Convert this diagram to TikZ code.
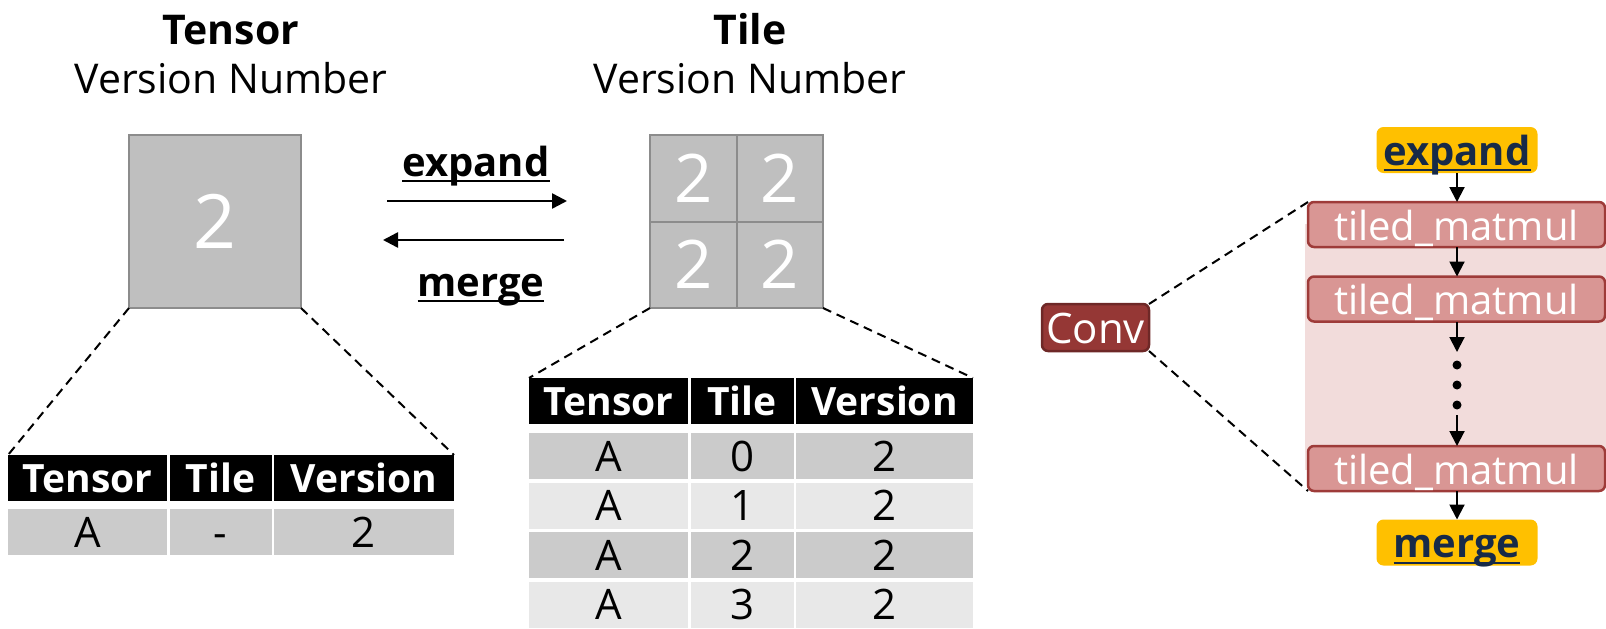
\documentclass[tikz,border=0pt]{standalone}
\usepackage{fontspec}
\setmainfont{Open Sans}
\usetikzlibrary{positioning,arrows.meta}
\definecolor{blkfill}{HTML}{BFBFBF}
\definecolor{blkline}{HTML}{8C8C8C}
\definecolor{rowdark}{HTML}{CBCBCB}
\definecolor{rowlight}{HTML}{E8E8E8}
\definecolor{convred}{HTML}{953735}
\definecolor{convline}{HTML}{6E2827}
\definecolor{tiledfill}{HTML}{D99694}
\definecolor{tiledline}{HTML}{9E3B39}
\definecolor{pinkbg}{HTML}{F2DCDB}
\definecolor{opyellow}{HTML}{FFC000}
\definecolor{opnavy}{HTML}{172A48}
\newcommand{\fs}[1]{\fontsize{#1}{#1}\selectfont}
\newcommand{\ulbar}[1]{\setbox0\hbox{#1}\rlap{\rule[-6pt]{\wd0}{2pt}}#1}

\begin{document}
\begin{tikzpicture}[x=1pt,y=-1pt,
    every node/.style={inner sep=0pt,outer sep=0pt},
    titletext/.style={font=\bfseries\fs{41},anchor=base},
    subtext/.style={font=\fs{41},anchor=base},
    block/.style={draw=blkline,fill=blkfill,line width=2pt,text=white,text height=54pt,text depth=0pt,font=\fs{75}},
    tilecell/.style={block,minimum width=86.5pt,minimum height=86.5pt,text height=48pt,font=\fs{67}},
    hcell/.style={fill=black,text=white,minimum height=46pt,text height=28pt,text depth=0pt,font=\bfseries\fs{39}},
    dcell/.style={fill=rowdark,minimum height=46pt,text height=30pt,text depth=0pt,font=\fs{42}},
    lcell/.style={dcell,fill=rowlight},
    arr/.style={-{Triangle[length=15pt,width=15pt]},line width=2.5pt},
    varr/.style={-{Triangle[length=15pt,width=15pt]},line width=2pt},
    zoomline/.style={dash pattern=on 9pt off 6pt,line width=2pt},
    opbox/.style={fill=opyellow,rounded corners=7pt,minimum width=161pt,minimum height=46pt,text height=30pt,text depth=0pt,text=opnavy,font=\bfseries\fs{40}},
    tiled/.style={draw=tiledline,fill=tiledfill,line width=2.5pt,rounded corners=6pt,minimum width=297pt,minimum height=45pt,text height=31pt,text depth=0pt,text=white,font=\fs{40}},
  ]
    \useasboundingbox (0,0) rectangle (1606,629);

    % titles
    \node[titletext] (tentitle) at (231,44) {Tensor};
    \node[subtext] (tensub) at (231,93) {Version Number};
    \node[titletext] (tiltitle) at (750,44) {Tile};
    \node[subtext] (tilsub) at (750,93) {Version Number};

    % tensor and tiles
    \node[block,minimum width=172pt,minimum height=173pt] (tensor) at (215,221.5) {2};
    \node[tilecell] (t1) at (693.25,178.25) {2};
    \node[tilecell,right=0pt of t1] (t2) {2};
    \node[tilecell,below=0pt of t1] (t3) {2};
    \node[tilecell,right=0pt of t3] (t4) {2};

    % expand / merge between them
    \node[font=\bfseries\fs{40},anchor=base] (explbl) at (476,176) {\ulbar{expand}};
    \node[font=\bfseries\fs{40},anchor=base] (mrglbl) at (481,296) {\ulbar{merge}};
    \coordinate (ea) at (387,201);
    \coordinate (eb) at (567,201);
    \coordinate (ma) at (564,240);
    \coordinate (mb) at (383,240);
    \draw[arr] (ea)--(eb);
    \draw[arr] (ma)--(mb);

    % tensor table
    \node[hcell,minimum width=159pt,anchor=north west] (lten) at (8,455) {Tensor};
    \node[hcell,minimum width=102pt,right=2.5pt of lten] (ltil) {Tile};
    \node[hcell,minimum width=180pt,right=2.5pt of ltil] (lver) {Version};
    \node[dcell,minimum width=159pt,below=8pt of lten] (la) {A};
    \node[dcell,minimum width=102pt,below=8pt of ltil] (lnone) {-};
    \node[dcell,minimum width=180pt,below=8pt of lver] (lv) {2};

    % tile table
    \node[hcell,minimum width=159pt,anchor=north west] (rten) at (529,378) {Tensor};
    \node[hcell,minimum width=103pt,right=2.5pt of rten] (rtil) {Tile};
    \node[hcell,minimum width=177pt,right=2.5pt of rtil] (rver) {Version};
    \node[dcell,minimum width=159pt,below=9pt of rten] (ra0) {A};
    \node[dcell,minimum width=103pt,below=9pt of rtil] (ri0) {0};
    \node[dcell,minimum width=177pt,below=9pt of rver] (rv0) {2};
    \node[lcell,minimum width=159pt,below=3.5pt of ra0] (ra1) {A};
    \node[lcell,minimum width=103pt,below=3.5pt of ri0] (ri1) {1};
    \node[lcell,minimum width=177pt,below=3.5pt of rv0] (rv1) {2};
    \node[dcell,minimum width=159pt,below=3.5pt of ra1] (ra2) {A};
    \node[dcell,minimum width=103pt,below=3.5pt of ri1] (ri2) {2};
    \node[dcell,minimum width=177pt,below=3.5pt of rv1] (rv2) {2};
    \node[lcell,minimum width=159pt,below=3.5pt of ra2] (ra3) {A};
    \node[lcell,minimum width=103pt,below=3.5pt of ri2] (ri3) {3};
    \node[lcell,minimum width=177pt,below=3.5pt of rv2] (rv3) {2};

    \draw[zoomline] (tensor.south west)--(lten.north west);
    \draw[zoomline] (tensor.south east)--(lver.north east);
    \draw[zoomline] (t3.south west)--(rten.north west);
    \draw[zoomline] (t4.south east)--(rver.north east);

    % conv lowered to tiled ops
    \fill[pinkbg] (1305,224) rectangle (1606,470);
    \node[opbox] (expop) at (1457,150) {\ulbar{expand}};
    \node[tiled] (mm1) at (1456.5,224.5) {tiled\_matmul};
    \node[tiled] (mm2) at (1456.5,299) {tiled\_matmul};
    \node[tiled] (mm3) at (1456.5,468.5) {tiled\_matmul};
    \node[opbox] (mrgop) at (1457,542.5) {\ulbar{merge}};
    \node[draw=convline,fill=convred,line width=2.5pt,rounded corners=6pt,minimum width=107pt,minimum height=47pt,text height=31pt,text depth=0pt,text=white,font=\fs{42}] (conv) at (1095.5,327.5) {Conv};
    \coordinate (dtop) at (1457,352);
    \coordinate (dbot) at (1457,415);
    \fill (1457,365) circle (4.5pt);
    \fill (1457,385) circle (4.5pt);
    \fill (1457,405) circle (4.5pt);
    \draw[varr] (expop.south)--(mm1.north -| expop.south);
    \draw[varr] (mm1.south -| expop.south)--(mm2.north -| expop.south);
    \draw[varr] (mm2.south -| expop.south)--(dtop);
    \draw[varr] (dbot)--(mm3.north -| expop.south);
    \draw[varr] (mm3.south -| expop.south)--(mrgop.north);
    \draw[zoomline] (conv.north east)--(mm1.north west);
    \draw[zoomline] (conv.south east)--(mm3.south west);
\end{tikzpicture}
\end{document}
